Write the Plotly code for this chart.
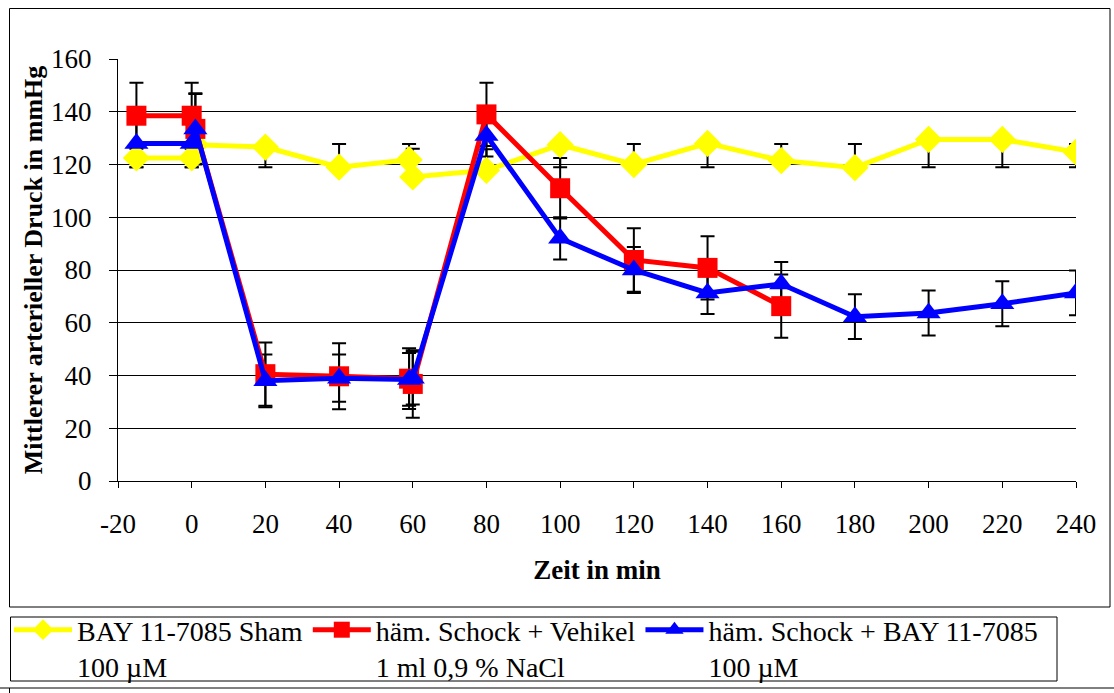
import plotly.graph_objects as go

# ---- data ----
x_ticks = [-20, 0, 20, 40, 60, 80, 100, 120, 140, 160, 180, 200, 220, 240]
x_tick_labels = ["-20", "0", "20", "40", "60", "80", "100", "120", "140", "160", "180", "200", "220", "240"]

time_sham = [-15, 0, 1, 20, 40, 59, 60, 80, 100, 120, 140, 160, 180, 200, 220, 240]
sham = [122.5, 122.5, 127.5, 126.6, 119, 121.8, 115.3, 117.8, 127.5, 120, 128, 121.5, 118.8, 129.5, 129.5, 124.7]
sham_err_plus = [5, 5, 0, 0, 8.8, 6, 10.7, 8, 0, 7.8, 0, 6.3, 9, 0, 0, 3.1]
sham_err_minus = [3.5, 3.5, 0, 7.6, 0, 0, 0, 0, 8.5, 0, 9, 0, 0, 10.5, 10.5, 5.7]

time_veh = [-15, 0, 1, 20, 40, 59, 60, 80, 100, 120, 140, 160]
veh = [138.5, 138.5, 133.5, 40.5, 39.7, 38.8, 36.8, 139, 111, 83.8, 80.8, 66.3]
veh_err = [12.5, 12.5, 13.5, 12, 12.5, 11.5, 12.8, 12, 11.5, 12, 12, 12]

time_bay = [-15, 0, 1, 20, 40, 59, 60, 80, 100, 120, 140, 160, 180, 200, 220, 240]
bay = [128, 128, 133.5, 38, 39, 38.5, 39, 131, 92, 80, 71.3, 74.7, 62.3, 63.7, 67.2, 71.3]
bay_err = [9, 9, 13.2, 10, 9, 10, 10, 8, 8, 8.7, 8, 8.3, 8.5, 8.5, 8.5, 8.5]

names = ["BAY 11-7085 Sham<br>100 µM",
         "häm. Schock + Vehikel<br>1 ml 0,9 % NaCl",
         "häm. Schock + BAY 11-7085<br>100 µM"]

W, H = 1114, 693
FONT = "Liberation Serif, Times New Roman, serif"

def px(x):
    return x / W

def py(y):
    return (H - y) / H

fig = go.Figure()

# error bars first (drawn behind all markers/lines)
err_style = dict(color="black", thickness=2, width=7)
fig.add_trace(go.Scatter(x=time_sham, y=sham, mode="markers", marker=dict(opacity=0, size=1),
                         error_y=dict(type="data", symmetric=False, array=sham_err_plus,
                                      arrayminus=sham_err_minus, **err_style),
                         showlegend=False, hoverinfo="skip"))
fig.add_trace(go.Scatter(x=time_veh, y=veh, mode="markers", marker=dict(opacity=0, size=1),
                         error_y=dict(type="data", array=veh_err, **err_style),
                         showlegend=False, hoverinfo="skip"))
fig.add_trace(go.Scatter(x=time_bay, y=bay, mode="markers", marker=dict(opacity=0, size=1),
                         error_y=dict(type="data", array=bay_err, **err_style),
                         showlegend=False, hoverinfo="skip"))

fig.add_trace(go.Scatter(x=time_sham, y=sham, mode="lines+markers", name=names[0],
                         line=dict(color="#FFFF00", width=5),
                         marker=dict(symbol="diamond", size=21, color="#FFFF00")))
fig.add_trace(go.Scatter(x=time_veh, y=veh, mode="lines+markers", name=names[1],
                         line=dict(color="#FF0000", width=5),
                         marker=dict(symbol="square", size=20, color="#FF0000")))
fig.add_trace(go.Scatter(x=time_bay, y=bay, mode="lines+markers", name=names[2],
                         line=dict(color="#0000FF", width=5),
                         marker=dict(symbol="triangle-up", size=21, color="#0000FF")))

shapes = [
    # outer chart frame
    dict(type="rect", xref="paper", yref="paper", x0=px(9.5), x1=px(1110), y0=py(607), y1=py(8.5),
         line=dict(color="black", width=1)),
    # legend box
    dict(type="rect", xref="paper", yref="paper", x0=px(10.5), x1=px(1057), y0=py(681), y1=py(617),
         line=dict(color="black", width=1)),
    dict(type="line", xref="paper", yref="paper", x0=0, x1=1, y0=py(688), y1=py(688),
         line=dict(color="black", width=1)),
    dict(type="line", xref="paper", yref="paper", x0=px(9.5), x1=px(9.5), y0=py(688), y1=0,
         line=dict(color="black", width=1)),
]

fig.update_layout(
    width=W, height=H,
    margin=dict(l=0, r=0, t=0, b=0, autoexpand=False),
    paper_bgcolor="white", plot_bgcolor="white",
    font=dict(family=FONT, size=27, color="black"),
    shapes=shapes,
    showlegend=True,
    legend=dict(orientation="h", x=px(9), y=py(605), xanchor="left", yanchor="top",
                bgcolor="rgba(0,0,0,0)", borderwidth=0, valign="top",
                itemwidth=58, entrywidthmode="pixels", entrywidth=0,
                font=dict(family=FONT, size=28, color="black"), tracegroupgap=0),
    xaxis=dict(domain=[px(118), px(1076)], range=[-20, 240], tickmode="array",
               tickvals=x_ticks, ticktext=x_tick_labels, showgrid=False, zeroline=False,
               showline=True, linecolor="black", linewidth=1, ticks="outside", ticklen=6,
               tickcolor="black", ticklabelstandoff=13, automargin=False,
               tickfont=dict(family=FONT, size=27),
               title=dict(text="<b>Zeit in min</b>", standoff=21,
                          font=dict(family=FONT, size=27))),
    yaxis=dict(domain=[py(481), py(59)], range=[0, 160], dtick=20, showgrid=True,
               gridcolor="black", gridwidth=1, zeroline=False, showline=True,
               linecolor="black", linewidth=1, ticks="outside", ticklen=8, tickcolor="black",
               ticklabelstandoff=12, automargin=False,
               tickfont=dict(family=FONT, size=27),
               title=dict(text="<b>Mittlerer arterieller Druck in mmHg</b>", standoff=0,
                          font=dict(family=FONT, size=26))),
)

fig.write_html("out.html")
